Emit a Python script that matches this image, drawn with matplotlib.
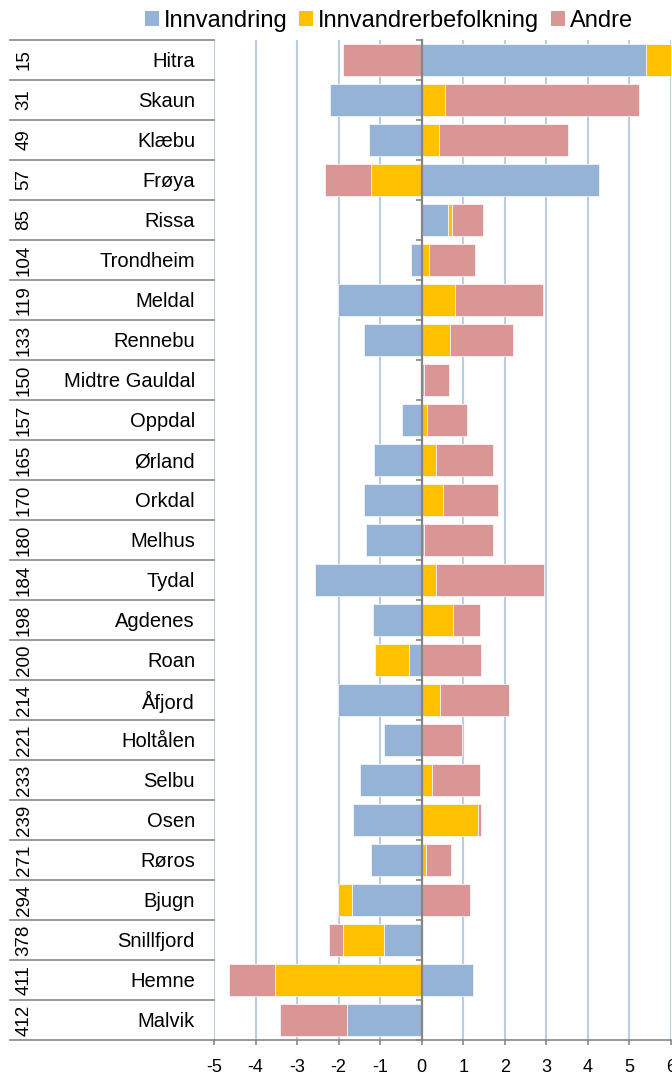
import matplotlib
matplotlib.use('Agg')
import matplotlib.pyplot as plt
import matplotlib.transforms as mtransforms
from matplotlib.patches import Patch
import numpy as np

plt.rcParams['font.family'] = ['Liberation Sans', 'DejaVu Sans']
plt.rcParams['axes.unicode_minus'] = False

names = ['Hitra', 'Skaun', 'Klæbu', 'Frøya', 'Rissa', 'Trondheim', 'Meldal', 'Rennebu',
         'Midtre Gauldal', 'Oppdal', 'Ørland', 'Orkdal', 'Melhus', 'Tydal', 'Agdenes', 'Roan',
         'Åfjord', 'Holtålen', 'Selbu', 'Osen', 'Røros', 'Bjugn', 'Snillfjord', 'Hemne', 'Malvik']
ranks = [15, 31, 49, 57, 85, 104, 119, 133, 150, 157, 165, 170, 180, 184, 198, 200,
         214, 221, 233, 239, 271, 294, 378, 411, 412]

innvandring = [5.40, -2.21, -1.28, 4.27, 0.64, -0.25, -2.02, -1.39, 0.0, -0.47, -1.14, -1.38, -1.34,
               -2.56, -1.17, -0.31, -2.01, -0.91, -1.48, -1.65, -1.23, -1.69, -0.91, 1.24, -1.79]
innvandrerbef = [0.75, 0.57, 0.41, -1.21, 0.09, 0.18, 0.80, 0.68, 0.06, 0.13, 0.34, 0.52, 0.06,
                 0.34, 0.76, -0.81, 0.45, 0.0, 0.24, 1.35, 0.11, -0.33, -0.99, -3.53, 0.0]
andre = [-1.89, 4.67, 3.11, -1.12, 0.74, 1.11, 2.12, 1.51, 0.59, 0.95, 1.38, 1.32, 1.65,
         2.60, 0.65, 1.42, 1.66, 0.96, 1.16, 0.07, 0.60, 1.16, -0.32, -1.10, -1.62]

series = [('Innvandring', innvandring, '#95B3D7'),
          ('Innvandrerbefolkning', innvandrerbef, '#FFC000'),
          ('Andre', andre, '#D99694')]

W, H = 672, 1074
fig = plt.figure(figsize=(W / 100, H / 100), dpi=100)
ax = fig.add_axes([214 / W, 1 - 1040 / H, 457 / W, 1000 / H])

n = len(names)
y = np.arange(n)
pos = np.zeros(n)
neg = np.zeros(n)
for label, vals, col in series:
    vals = np.array(vals)
    left = np.where(vals >= 0, pos, neg + vals)
    ax.barh(y, np.abs(vals), left=left, height=0.78, color=col,
            edgecolor='#f4f4f4', linewidth=0.6, zorder=3)
    pos = pos + np.where(vals >= 0, vals, 0)
    neg = neg + np.where(vals < 0, vals, 0)

ax.set_xlim(-5, 6)
ax.set_ylim(n - 0.5, -0.5)
ax.set_xticks(range(-5, 7))
ax.xaxis.grid(True, color='#B9CDE5', linewidth=1.5, zorder=0)
ax.set_axisbelow(True)

# vertical axis crossing at zero with ticks at row boundaries
ax.spines['left'].set_position(('data', 0))
ax.spines['left'].set_color('#868686')
ax.spines['left'].set_linewidth(1.6)
ax.spines['left'].set_zorder(4)
ax.set_yticks(np.arange(n + 1) - 0.5)
ax.set_yticklabels([])
ax.tick_params(axis='y', direction='out', length=4.3, width=1.2, color='#868686')
ax.spines['top'].set_visible(False)
ax.spines['right'].set_visible(False)
ax.spines['bottom'].set_color('#868686')
ax.spines['bottom'].set_linewidth(1.2)
ax.tick_params(axis='x', length=3.6, width=1.2, color='#868686', pad=10,
               labelsize=13, labelcolor='#000000')

# category table on the left
tr = mtransforms.blended_transform_factory(fig.transFigure, ax.transData)
for b in np.arange(n + 1) - 0.5:
    ax.plot([10 / W, 214 / W], [b, b], transform=tr, color='#878787',
            linewidth=1.2, clip_on=False)
for i in range(n):
    ax.text(195 / W, i + 0.04, names[i], transform=tr, ha='right', va='center', fontsize=14.5)
    ax.text(24 / W, i, str(ranks[i]), transform=tr, ha='center', va='center',
            rotation=90, fontsize=13.5)

handles = [Patch(facecolor=c, edgecolor='none', label=l) for l, v, c in series]
fig.legend(handles=handles, loc='center', bbox_to_anchor=(389 / W, 1 - 21 / H),
           ncol=3, frameon=False, fontsize=17, handlelength=0.6, handleheight=0.6,
           handletextpad=0.2, columnspacing=0.5, borderpad=0)

fig.savefig('out.png', dpi=100)
